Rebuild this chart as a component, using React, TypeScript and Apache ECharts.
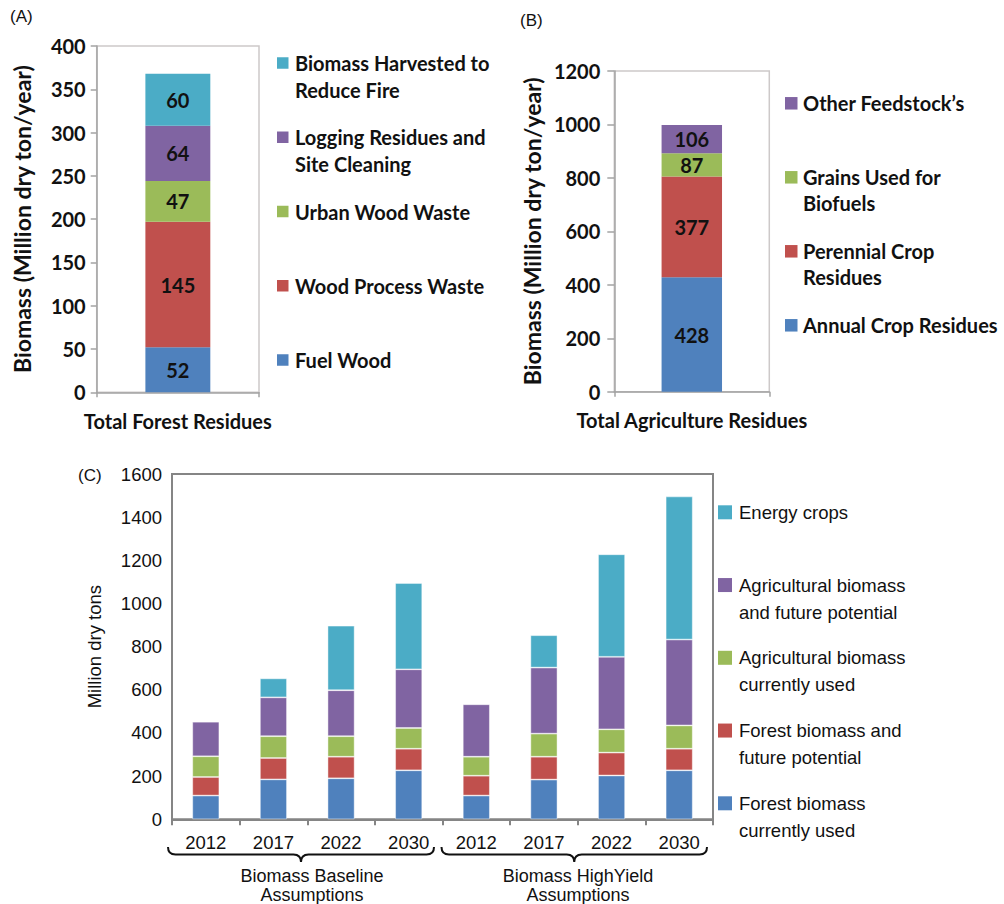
import React, { useEffect, useRef } from "react";
import * as echarts from "echarts";

// ---------- Panel A data ----------
const forestCategories = ["Total Forest Residues"];
const forestSeriesNames = [
  "Fuel Wood",
  "Wood Process Waste",
  "Urban Wood Waste",
  "Logging Residues and Site Cleaning",
  "Biomass Harvested to Reduce Fire",
];
const forestLegendLines = [
  ["Fuel Wood"],
  ["Wood Process Waste"],
  ["Urban Wood Waste"],
  ["Logging Residues and", "Site Cleaning"],
  ["Biomass Harvested to", "Reduce Fire"],
];
const forestValues = [52, 145, 47, 64, 60];
const forestAxis = { min: 0, max: 400, interval: 50 };

// ---------- Panel B data ----------
const agriCategories = ["Total Agriculture Residues"];
const agriSeriesNames = [
  "Annual Crop Residues",
  "Perennial Crop Residues",
  "Grains Used for Biofuels",
  "Other Feedstock’s",
];
const agriLegendLines = [
  ["Annual Crop Residues"],
  ["Perennial Crop", "Residues"],
  ["Grains Used for", "Biofuels"],
  ["Other Feedstock’s"],
];
const agriValues = [428, 377, 87, 106];
const agriAxis = { min: 0, max: 1200, interval: 200 };

// ---------- Panel C data ----------
const years = ["2012", "2017", "2022", "2030"];
const scenarios = [
  ["Biomass Baseline", "Assumptions"],
  ["Biomass HighYield", "Assumptions"],
];
const projectionNames = [
  "Forest biomass currently used",
  "Forest biomass and future potential",
  "Agricultural biomass currently used",
  "Agricultural biomass and future potential",
  "Energy crops",
];
const projectionLegendLines = [
  ["Forest biomass", "currently used"],
  ["Forest biomass and", "future potential"],
  ["Agricultural biomass", "currently used"],
  ["Agricultural biomass", "and future potential"],
  ["Energy crops"],
];
const forestCurrent = [110, 185, 190, 227, 110, 184, 203, 227];
const forestFuture = [86, 99, 100, 100, 92, 106, 106, 100];
const agriCurrent = [96, 101, 95, 96, 88, 107, 108, 108];
const agriFuture = [160, 180, 213, 272, 243, 306, 336, 398];
const energyCrops = [null, 88, 299, 400, null, 150, 475, 663];
const projectionAxis = { min: 0, max: 1600, interval: 200 };

// ---------- styles ----------
const officeColors = ["#4F81BD", "#C0504D", "#9BBB59", "#8064A2", "#4BACC6"];
const BOLD_FONT = "Lato, 'Open Sans', sans-serif";
const PLAIN_FONT = "'Liberation Sans', Arial, Helvetica, sans-serif";

const W = 1004;
const H = 904;

function legendGraphics(
  lines: string[][],
  colors: string[],
  firstY: number,
  step: number,
  boxX: number,
  boxSize: number,
  textX: number,
  font: { family: string; size: number; weight: string; lineHeight: number }
) {
  const els: any[] = [];
  const n = lines.length;
  lines.forEach((ls, i) => {
    const cy = firstY + (n - 1 - i) * step;
    els.push({
      type: "rect",
      shape: { x: boxX, y: cy - boxSize / 2, width: boxSize, height: boxSize },
      style: { fill: colors[i] },
      silent: true,
    });
    els.push({
      type: "text",
      x: textX,
      y: cy - font.lineHeight / 2,
      style: {
        text: ls.join("\n"),
        fontFamily: font.family,
        fontSize: font.size,
        fontWeight: font.weight,
        lineHeight: font.lineHeight,
        fill: "#111",
        verticalAlign: "top",
        align: "left",
      },
      silent: true,
    });
  });
  return els;
}

function bracePath(x0: number, x1: number, yTop: number, yLine: number, yTip: number) {
  const xm = (x0 + x1) / 2;
  const r = yLine - yTop;
  return (
    `M${x0},${yTop} Q${x0},${yLine} ${x0 + r},${yLine} ` +
    `L${xm - r},${yLine} Q${xm},${yLine} ${xm},${yTip} ` +
    `Q${xm},${yLine} ${xm + r},${yLine} L${x1 - r},${yLine} ` +
    `Q${x1},${yLine} ${x1},${yTop}`
  );
}

let shapesRegistered = false;
function registerShapes() {
  if (shapesRegistered) return;
  shapesRegistered = true;
  echarts.graphic.registerShape(
    "braceBaseline",
    echarts.graphic.extendPath(bracePath(168, 434, 847, 854.5, 862), {}) as any
  );
  echarts.graphic.registerShape(
    "braceHighYield",
    echarts.graphic.extendPath(bracePath(441.5, 707, 847, 854.5, 862), {}) as any
  );
}

const plainNumber = (v: number) => String(v);

export default function App() {
  const ref = useRef<HTMLDivElement>(null);

  useEffect(() => {
    if (!ref.current) return;
    registerShapes();
    const chart = echarts.init(ref.current, undefined, { renderer: "svg", width: W, height: H });

    const categoriesC: string[] = [];
    scenarios.forEach((_, si) => years.forEach((y) => categoriesC.push(`${si}|${y}`)));
    const projectionData = [forestCurrent, forestFuture, agriCurrent, agriFuture, energyCrops];

    const boldLabel = {
      show: true,
      position: "inside",
      color: "#111",
      fontFamily: BOLD_FONT,
      fontWeight: "bold",
      fontSize: 20,
    };

    const series: any[] = [];
    forestSeriesNames.forEach((name, i) => {
      series.push({
        name,
        type: "bar",
        stack: "forest",
        xAxisIndex: 0,
        yAxisIndex: 0,
        barWidth: "40%",
        data: [forestValues[i]],
        itemStyle: { color: officeColors[i] },
        label: boldLabel,
      });
    });
    agriSeriesNames.forEach((name, i) => {
      series.push({
        name,
        type: "bar",
        stack: "agri",
        xAxisIndex: 1,
        yAxisIndex: 1,
        barWidth: "39%",
        data: [agriValues[i]],
        itemStyle: { color: officeColors[i] },
        label: boldLabel,
      });
    });
    projectionNames.forEach((name, i) => {
      series.push({
        name,
        type: "bar",
        stack: "projection",
        xAxisIndex: 2,
        yAxisIndex: 2,
        barWidth: "40%",
        data: projectionData[i],
        itemStyle: {
          color: officeColors[i],
          borderColor: "rgba(255,255,255,0.55)",
          borderWidth: 0.8,
        },
      });
    });

    const lightBorder = "#cdc9c9";
    const axisGray = "#a3a3a3";
    const darkGray = "#858585";
    const boldAxisLabel = { color: "#111", fontFamily: BOLD_FONT, fontWeight: "bold", fontSize: 20 };
    const boldAxisName = { color: "#111", fontFamily: BOLD_FONT, fontWeight: "bold", fontSize: 23 };

    const option: any = {
      animation: false,
      backgroundColor: "#ffffff",
      grid: [
        { left: 96.7, top: 46, width: 162.3, height: 346.3, show: true, borderColor: lightBorder, borderWidth: 1.5 },
        { left: 614.3, top: 71, width: 155, height: 320.7, show: true, borderColor: lightBorder, borderWidth: 1.5 },
        { left: 172, top: 474, width: 541, height: 345.3, show: true, borderColor: darkGray, borderWidth: 2 },
      ],
      xAxis: [
        {
          gridIndex: 0,
          type: "category",
          data: forestCategories,
          axisLine: { lineStyle: { color: axisGray, width: 1.5 } },
          axisTick: { show: true, length: 5, lineStyle: { color: axisGray, width: 1.5 } },
          axisLabel: { ...boldAxisLabel, margin: 19 },
        },
        {
          gridIndex: 1,
          type: "category",
          data: agriCategories,
          axisLine: { lineStyle: { color: axisGray, width: 1.5 } },
          axisTick: { show: true, length: 5, lineStyle: { color: axisGray, width: 1.5 } },
          axisLabel: { ...boldAxisLabel, margin: 18.5 },
        },
        {
          gridIndex: 2,
          type: "category",
          data: categoriesC,
          axisLine: { lineStyle: { color: darkGray, width: 2 } },
          axisTick: { show: true, length: 6, lineStyle: { color: darkGray, width: 2 } },
          axisLabel: {
            color: "#111",
            fontFamily: PLAIN_FONT,
            fontSize: 18.5,
            margin: 14,
            formatter: (v: string) => v.split("|")[1],
          },
        },
      ],
      yAxis: [
        {
          gridIndex: 0,
          type: "value",
          ...forestAxis,
          name: "Biomass (Million dry ton/year)",
          nameLocation: "middle",
          nameGap: 63.5,
          nameTextStyle: boldAxisName,
          axisLine: { show: true, lineStyle: { color: axisGray, width: 1.5 } },
          axisTick: { show: true, length: 6, lineStyle: { color: axisGray, width: 1.5 } },
          splitLine: { show: false },
          axisLabel: { ...boldAxisLabel, margin: 11, formatter: plainNumber },
        },
        {
          gridIndex: 1,
          type: "value",
          ...agriAxis,
          name: "Biomass (Million dry ton/year)",
          nameLocation: "middle",
          nameGap: 71,
          nameTextStyle: boldAxisName,
          axisLine: { show: true, lineStyle: { color: axisGray, width: 1.5 } },
          axisTick: { show: true, length: 7, lineStyle: { color: axisGray, width: 1.5 } },
          splitLine: { show: false },
          axisLabel: { ...boldAxisLabel, margin: 14, formatter: plainNumber },
        },
        {
          gridIndex: 2,
          type: "value",
          ...projectionAxis,
          name: "Million dry tons",
          nameLocation: "middle",
          nameGap: 68,
          nameTextStyle: { color: "#111", fontFamily: PLAIN_FONT, fontSize: 18.5 },
          axisLine: { show: true, lineStyle: { color: darkGray, width: 2 } },
          axisTick: { show: false },
          splitLine: { show: false },
          axisLabel: { color: "#111", fontFamily: PLAIN_FONT, fontSize: 18.5, margin: 10, formatter: plainNumber },
        },
      ],
      series,
      graphic: [
        {
          type: "text",
          x: 10,
          y: 8,
          style: { text: "(A)", fontFamily: PLAIN_FONT, fontSize: 17, fill: "#111" },
          silent: true,
        },
        {
          type: "text",
          x: 520,
          y: 12,
          style: { text: "(B)", fontFamily: PLAIN_FONT, fontSize: 17, fill: "#111" },
          silent: true,
        },
        {
          type: "text",
          x: 78,
          y: 467,
          style: { text: "(C)", fontFamily: PLAIN_FONT, fontSize: 17, fill: "#111" },
          silent: true,
        },
        ...legendGraphics(forestLegendLines, officeColors, 63, 74.25, 277, 11.5, 295, {
          family: BOLD_FONT,
          size: 20,
          weight: "bold",
          lineHeight: 27,
        }),
        ...legendGraphics(agriLegendLines, officeColors.slice(0, 4), 103.3, 74, 785, 12.5, 803, {
          family: BOLD_FONT,
          size: 20,
          weight: "bold",
          lineHeight: 26,
        }),
        ...legendGraphics(projectionLegendLines, officeColors, 512.3, 72.75, 718, 14, 739, {
          family: PLAIN_FONT,
          size: 18.5,
          weight: "normal",
          lineHeight: 27,
        }),
        {
          type: "braceBaseline",
          x: 0,
          y: 0,
          style: { stroke: "#111", lineWidth: 2, fill: "none" },
          silent: true,
        },
        {
          type: "braceHighYield",
          x: 0,
          y: 0,
          style: { stroke: "#111", lineWidth: 2, fill: "none" },
          silent: true,
        },
        {
          type: "text",
          x: 312,
          y: 866,
          style: {
            text: scenarios[0].join("\n"),
            fontFamily: PLAIN_FONT,
            fontSize: 18,
            lineHeight: 19,
            align: "center",
            verticalAlign: "top",
            fill: "#111",
          },
          silent: true,
        },
        {
          type: "text",
          x: 578,
          y: 866,
          style: {
            text: scenarios[1].join("\n"),
            fontFamily: PLAIN_FONT,
            fontSize: 18,
            lineHeight: 19,
            align: "center",
            verticalAlign: "top",
            fill: "#111",
          },
          silent: true,
        },
      ],
    };

    chart.setOption(option);
    return () => chart.dispose();
  }, []);

  return (
    <div
      ref={ref}
      style={{ position: "fixed", left: 0, top: 0, width: W, height: H, background: "#fff" }}
    />
  );
}
